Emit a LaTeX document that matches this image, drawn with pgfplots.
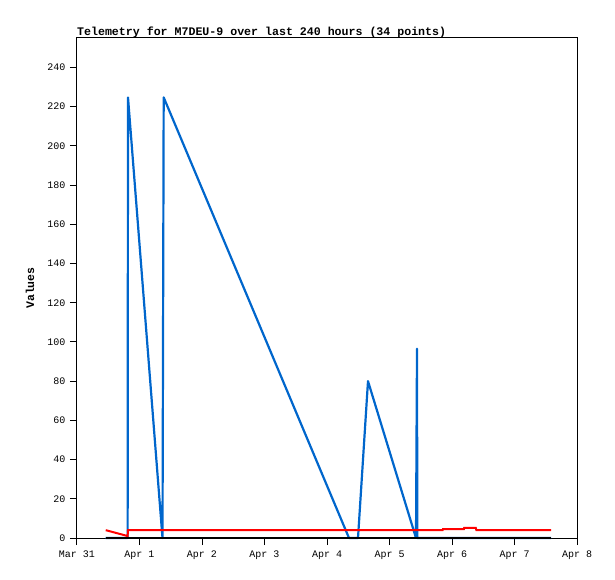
\documentclass[border=0pt]{standalone}
\usepackage{fontspec}
\setmainfont{Liberation Mono}
\usepackage{pgfplots}
\pgfplotsset{compat=1.18}
\definecolor{tblue}{HTML}{0066CC}
\definecolor{tred}{HTML}{FF0000}
\begin{document}
\begin{tikzpicture}
\path (-77pt,-41pt) rectangle (538pt,538pt);
\begin{axis}[
  at={(0pt,0pt)}, anchor=south west,
  scale only axis, width=500pt, height=500pt,
  xmin=0, xmax=8, ymin=0, ymax=255,
  xtick={0,1,...,8},
  xticklabels={Mar 31,Apr 1,Apr 2,Apr 3,Apr 4,Apr 5,Apr 6,Apr 7,Apr 8},
  ytick={0,20,...,240},
  tick align=outside, major tick length=7pt,
  tick style={black, line width=1pt},
  axis line style={line width=1pt},
  ticklabel style={font=\fontsize{10}{12}\selectfont},
  xticklabel style={yshift=-2pt},
  yticklabel style={xshift=-1pt},
  /pgf/number format/assume math mode=true,
  xtick pos=bottom, ytick pos=left,
  ylabel={Values},
  every axis y label/.style={at={(axis description cs:-0.094,0.5)},rotate=90,anchor=center,font=\fontsize{11.5}{13}\selectfont\bfseries},
  clip=false,
]
\addplot[tblue, line width=2.2pt, line join=round] coordinates {
(0.46,0) (0.81,0) (0.816,224.7) (1.368,0) (1.387,224.7) (4.352,0) (4.496,0) (4.656,80) (5.424,0) (5.44,96.5) (5.445,0) (7.584,0)
};
\addplot[tred, line width=2pt] coordinates {
(0.46,4) (0.81,1) (0.816,4) (5.85,4) (5.855,4.5) (6.19,4.5) (6.195,5.2) (6.38,5.2) (6.39,4) (7.584,4)
};
\addplot[black, line width=2pt] coordinates {
(0.46,0) (7.584,0)
};
\end{axis}
\node[anchor=base west, font=\fontsize{11.6}{13}\selectfont\bfseries, inner sep=0pt] at (0pt,502pt) {Telemetry for M7DEU-9 over last 240 hours (34 points)};
\end{tikzpicture}
\end{document}
